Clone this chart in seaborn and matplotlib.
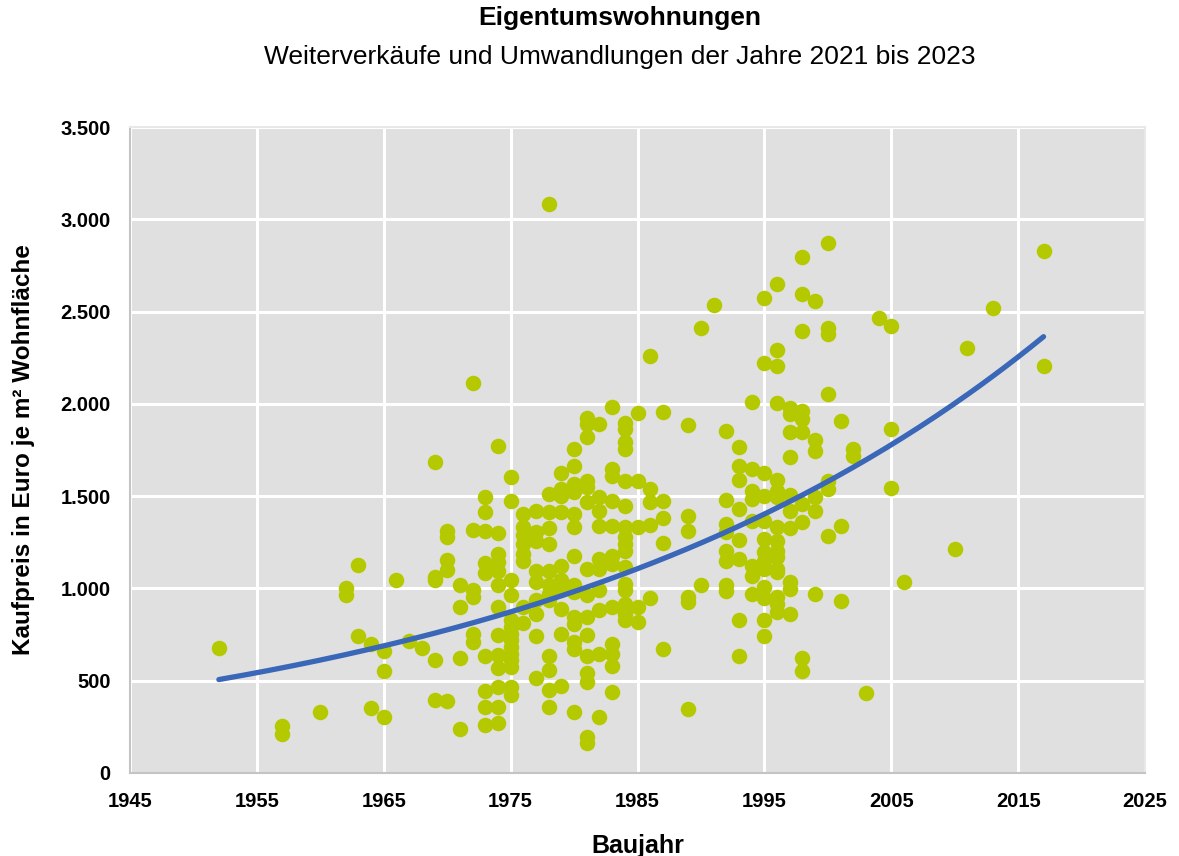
import numpy as np
import pandas as pd
import matplotlib
matplotlib.use("Agg")
import matplotlib.pyplot as plt
import seaborn as sns

# Kaufpreise (Euro je m² Wohnfläche) je Baujahr
prices_by_year = {
    1952: [675],
    1957: [256, 211],
    1960: [328],
    1962: [1004, 967],
    1963: [1128, 741],
    1964: [697, 350],
    1965: [661, 553, 304],
    1966: [1047],
    1967: [713],
    1968: [679],
    1969: [1683, 1063, 1045, 610, 395],
    1970: [1313, 1277, 1155, 1100, 391],
    1971: [1021, 899, 625, 238],
    1972: [2112, 1319, 989, 953, 755, 710],
    1973: [1497, 1412, 1313, 1135, 1081, 632, 445, 358, 259],
    1974: [1769, 1301, 1187, 1145, 1097, 1016, 899, 750, 640, 570, 466, 358, 269],
    1975: [1601, 1472, 1043, 965, 827, 791, 755, 719, 683, 647, 611, 575, 466, 422],
    1976: [1404, 1331, 1290, 1242, 1187, 1151, 899, 810],
    1977: [1421, 1304, 1259, 1097, 1034, 935, 863, 741, 512],
    1978: [3081, 1512, 1412, 1326, 1241, 1097, 1016, 971, 935, 632, 557, 452, 355],
    1979: [1623, 1539, 1503, 1412, 1124, 1043, 993, 890, 755, 470],
    1980: [1755, 1665, 1566, 1520, 1404, 1331, 1178, 1016, 980, 845, 809, 710, 674, 331],
    1981: [1926, 1890, 1818, 1584, 1547, 1466, 1106, 962, 845, 746, 632, 539, 494, 196, 161],
    1982: [1890, 1494, 1421, 1340, 1160, 1106, 989, 885, 647, 301],
    1983: [1984, 1647, 1611, 1476, 1340, 1178, 1133, 899, 701, 647, 578, 440],
    1984: [1899, 1863, 1791, 1755, 1584, 1449, 1331, 1277, 1242, 1205, 1115, 1025, 989, 917, 863, 827],
    1985: [1950, 1584, 1331, 899, 818],
    1986: [2259, 1539, 1466, 1346, 950],
    1987: [1957, 1472, 1382, 1245, 674],
    1989: [1885, 1394, 1313, 953, 926, 344],
    1990: [2409, 1021],
    1991: [2537],
    1992: [1854, 1479, 1350, 1304, 1205, 1151, 1021, 985],
    1993: [1767, 1665, 1589, 1431, 1263, 1160, 827, 632],
    1994: [2012, 1647, 1530, 1485, 1367, 1124, 1065, 971],
    1995: [2571, 2223, 1623, 1500, 1367, 1268, 1196, 1151, 1106, 1007, 950, 831, 742],
    1996: [2652, 2292, 2205, 2007, 1587, 1530, 1494, 1331, 1259, 1205, 1169, 1106, 1088, 953, 917, 872],
    1997: [1980, 1944, 1845, 1713, 1505, 1421, 1326, 1034, 998, 863],
    1998: [2796, 2593, 2394, 1962, 1917, 1845, 1458, 1358, 625, 553],
    1999: [2557, 1804, 1746, 1494, 1418, 968],
    2000: [2872, 2409, 2377, 2052, 1584, 1539, 1286],
    2001: [1908, 1340, 931],
    2002: [1755, 1719],
    2003: [434],
    2004: [2466],
    2005: [2421, 1866, 1544],
    2006: [1034],
    2010: [1211],
    2011: [2301],
    2013: [2517],
    2017: [2827, 2205],
}

df = pd.DataFrame(
    [(y, p) for y, vals in prices_by_year.items() for p in vals],
    columns=["Baujahr", "Kaufpreis"],
)

# exponentielle Trendlinie wie in Excel
b, a = np.polyfit(df["Baujahr"], np.log(df["Kaufpreis"]), 1)
trend = pd.DataFrame({"Baujahr": np.linspace(df["Baujahr"].min(), df["Baujahr"].max(), 200)})
trend["Kaufpreis"] = np.exp(a + b * trend["Baujahr"])

sns.set_theme(style="darkgrid")
plt.rcParams["font.family"] = ["Liberation Sans", "DejaVu Sans"]
plt.rcParams["text.color"] = "black"
plt.rcParams["axes.labelcolor"] = "black"

fig = plt.figure(figsize=(11.79, 8.56), dpi=100)
ax = fig.add_axes([0.1103, 0.0970, 0.8609, 0.7546])
ax.set_facecolor("#E0E0E0")

sns.scatterplot(data=df, x="Baujahr", y="Kaufpreis", ax=ax, color="#B5C900",
                s=125, linewidth=0, zorder=3)
sns.lineplot(data=trend, x="Baujahr", y="Kaufpreis", ax=ax, color="#3A67B8",
             linewidth=3.8, zorder=4, solid_capstyle="round")

ax.set_xlim(1945, 2025)
ax.set_ylim(0, 3500)
ax.set_xticks(range(1945, 2026, 10))
ax.set_yticks(range(0, 3501, 500))
ax.set_yticklabels([f"{v:,}".replace(",", ".") for v in range(0, 3501, 500)])
ax.grid(True, color="white", linewidth=2.2)
ax.set_axisbelow(True)
for side in ["left", "bottom"]:
    ax.spines[side].set_visible(True)
    ax.spines[side].set_color("#C4C4C4")
    ax.spines[side].set_linewidth(1.5)
for side in ["top", "right"]:
    ax.spines[side].set_visible(True)
    ax.spines[side].set_color("#E8E8E8")
    ax.spines[side].set_linewidth(1.5)

ax.tick_params(axis="both", labelsize=14.5, colors="black", length=0)
ax.tick_params(axis="x", pad=14)
ax.tick_params(axis="y", pad=14)
for lbl in ax.get_xticklabels() + ax.get_yticklabels():
    lbl.set_fontweight("bold")

ax.set_xlabel("Baujahr", fontsize=18, fontweight="bold", labelpad=16)
ax.set_ylabel("Kaufpreis in Euro je m² Wohnfläche", fontsize=17.5, fontweight="bold", labelpad=18)

fig.text(620 / 1179, 1 - 18 / 856, "Eigentumswohnungen", ha="center", va="center",
         fontsize=19, fontweight="bold")
fig.text(620 / 1179, 1 - 57 / 856, "Weiterverkäufe und Umwandlungen der Jahre 2021 bis 2023",
         ha="center", va="center", fontsize=19)

fig.savefig("out.png", dpi=100)
